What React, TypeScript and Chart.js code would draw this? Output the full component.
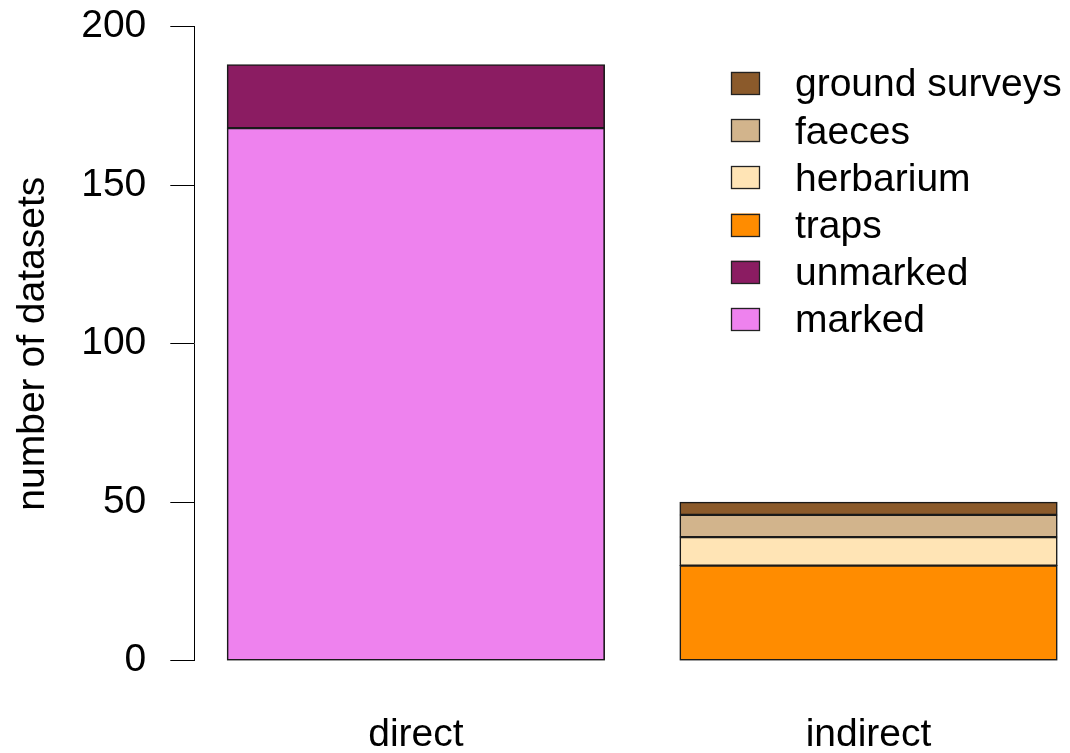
import React, { useEffect, useRef } from 'react';
import { Chart, registerables } from 'chart.js';

Chart.register(...registerables);

const categories = ['direct', 'indirect'];
const seriesLabels = ['marked', 'unmarked', 'traps', 'herbarium', 'faeces', 'ground surveys'];
const marked = [168, null];
const unmarked = [20, null];
const traps = [null, 30];
const herbarium = [null, 9];
const faeces = [null, 7];
const groundSurveys = [null, 4];
const seriesColors = ['#EE82EE', '#8B1C62', '#FF8C00', '#FFE4B5', '#D2B48C', '#8B5A2B'];
const yTicks = [0, 50, 100, 150, 200];
const yTitle = 'number of datasets';

const FONT = '"Liberation Sans", Arial, Helvetica, sans-serif';
const FS = 39;

const legendPlugin = {
  id: 'insetLegend',
  afterDraw(chart: any) {
    const ctx = chart.ctx;
    const ds = chart.data.datasets;
    ctx.save();
    ctx.font = `${FS}px ${FONT}`;
    ctx.textBaseline = 'alphabetic';
    ctx.textAlign = 'left';
    const boxX = 731;
    const boxW = 29;
    const boxH = 23;
    const textX = 795;
    const firstY = 83.4;
    const step = 47.2;
    for (let k = 0; k < ds.length; k++) {
      const d = ds[ds.length - 1 - k];
      const cy = firstY + k * step;
      ctx.fillStyle = d.backgroundColor;
      ctx.fillRect(boxX, cy - boxH / 2, boxW, boxH);
      ctx.strokeStyle = '#222';
      ctx.lineWidth = 1.3;
      ctx.strokeRect(boxX + 0.5, Math.round(cy - boxH / 2) + 0.5, boxW - 1, boxH - 1);
      ctx.fillStyle = '#000';
      ctx.fillText(d.label, textX, cy + 13);
    }
    ctx.restore();
  },
};

export default function App() {
  const ref = useRef<HTMLCanvasElement | null>(null);

  useEffect(() => {
    if (!ref.current) return;
    const series = [marked, unmarked, traps, herbarium, faeces, groundSurveys];
    const datasets = series.map((vals, k) => ({
      label: seriesLabels[k],
      data: vals
        .map((v, i) => (v == null ? null : { x: i, y: v }))
        .filter((p) => p !== null),
      backgroundColor: seriesColors[k],
      borderColor: '#1a1a1a',
      borderWidth: 1.6,
      borderSkipped: false,
      inflateAmount: 0.5,
      barPercentage: 1 / 1.2,
      categoryPercentage: 1,
    }));

    const chart = new Chart(ref.current, {
      type: 'bar',
      data: { datasets: datasets as any },
      options: {
        responsive: false,
        animation: false,
        events: [],
        layout: { padding: { top: 26.7, left: 0, right: 0, bottom: 0 } },
        plugins: {
          legend: { display: false },
          tooltip: { enabled: false },
        },
        scales: {
          x: {
            type: 'linear',
            min: -0.4895,
            max: 1.4451,
            offset: false,
            stacked: true,
            grid: { display: false },
            border: { display: false },
            afterBuildTicks: (s: any) => {
              s.ticks = categories.map((_, i) => ({ value: i }));
            },
            afterFit: (s: any) => {
              s.height = 92.3;
              s.paddingLeft = 0;
              s.paddingRight = 0;
            },
            ticks: {
              autoSkip: false,
              maxRotation: 0,
              minRotation: 0,
              padding: 43,
              color: '#000',
              font: { family: FONT, size: FS },
              callback: (v: any) => categories[v] ?? '',
            },
          },
          y: {
            type: 'linear',
            min: 0,
            max: 200,
            stacked: true,
            afterBuildTicks: (s: any) => {
              s.ticks = yTicks.map((v) => ({ value: v }));
            },
            afterFit: (s: any) => {
              s.width = 194.3;
              s.paddingTop = 0;
              s.paddingBottom = 0;
            },
            grid: {
              drawOnChartArea: false,
              drawTicks: true,
              tickLength: 24,
              color: '#000',
              lineWidth: 1,
            },
            border: { display: true, color: '#000', width: 1 },
            ticks: {
              padding: 24,
              color: '#000',
              font: { family: FONT, size: FS },
            },
            title: {
              display: true,
              text: yTitle,
              color: '#000',
              font: { family: FONT, size: FS },
              padding: { top: 10, bottom: 0 },
            },
          },
        },
      } as any,
      plugins: [legendPlugin],
    });
    return () => chart.destroy();
  }, []);

  return (
    <div
      style={{
        position: 'absolute',
        left: 0,
        top: 0,
        width: 1070,
        height: 753,
        background: '#fff',
        overflow: 'hidden',
      }}
    >
      <canvas ref={ref} width={1070} height={753} style={{ display: 'block' }} />
    </div>
  );
}
